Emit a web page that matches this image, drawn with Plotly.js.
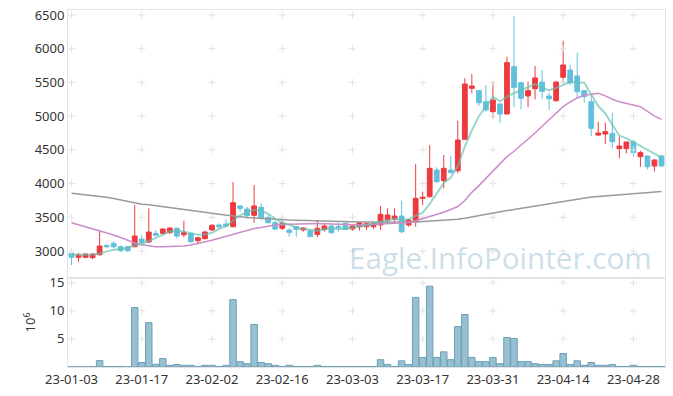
<!DOCTYPE html>
<html>
<head>
<meta charset="utf-8">
<script src="https://cdn.plot.ly/plotly-3.0.1.min.js"></script>
<style>html,body{margin:0;padding:0;background:#fff;}#chart{width:673px;height:396px;}</style>
</head>
<body>
<div id="chart"></div>
<script>
const dates = ["23-01-03","23-01-04","23-01-05","23-01-06","23-01-09","23-01-10","23-01-11","23-01-12","23-01-13","23-01-16",
"23-01-17","23-01-18","23-01-19","23-01-20","23-01-25","23-01-26","23-01-27","23-01-30","23-01-31","23-02-01",
"23-02-02","23-02-03","23-02-06","23-02-07","23-02-08","23-02-09","23-02-10","23-02-13","23-02-14","23-02-15",
"23-02-16","23-02-17","23-02-20","23-02-21","23-02-22","23-02-23","23-02-24","23-02-27","23-02-28","23-03-02",
"23-03-03","23-03-06","23-03-07","23-03-08","23-03-09","23-03-10","23-03-13","23-03-14","23-03-15","23-03-16",
"23-03-17","23-03-20","23-03-21","23-03-22","23-03-23","23-03-24","23-03-27","23-03-28","23-03-29","23-03-30",
"23-03-31","23-04-03","23-04-04","23-04-05","23-04-06","23-04-07","23-04-10","23-04-11","23-04-12","23-04-13",
"23-04-14","23-04-17","23-04-18","23-04-19","23-04-20","23-04-21","23-04-24","23-04-25","23-04-26","23-04-27",
"23-04-28","23-05-02","23-05-03","23-05-04","23-05-08"];

const open = [2966,2907,2907,2902,2946,3084,3114,3064,3064,3064,
3178,3134,3262,3262,3272,3337,3242,3262,3153,3183,
3312,3386,3401,3361,3668,3623,3529,3648,3500,3420,
3337,3312,3361,3312,3302,3247,3321,3371,3366,3411,
3326,3361,3361,3361,3386,3460,3470,3519,3386,3435,
3781,3806,4201,4043,4201,4191,4657,5413,5378,5214,
5066,5180,5032,5734,5496,5299,5407,5506,5299,5229,
5576,5684,5595,5378,5214,4720,4735,4745,4518,4518,
4617,4399,4409,4261,4409];
const high = [2970,2975,2966,2966,3312,3104,3144,3084,3074,3682,
3237,3633,3312,3336,3346,3346,3450,3272,3213,3302,
3401,3410,3470,4023,3682,3658,3979,3707,3530,3450,
3450,3337,3371,3356,3302,3455,3420,3391,3420,3420,
3381,3425,3420,3420,3668,3633,3633,3747,3470,4290,
3880,4572,4241,4424,4409,4933,5561,5625,5388,5462,
5511,5190,5882,6485,5511,5511,5744,5684,5348,5511,
6119,5759,5941,5388,5314,4918,4903,5051,4695,4621,
4646,4488,4419,4360,4419];
const low = [2793,2842,2893,2880,2931,3040,3045,2985,2985,3055,
3084,3114,3223,3252,3257,3188,3203,3114,3099,3173,
3302,3331,3351,3351,3583,3485,3420,3460,3411,3312,
3312,3213,3213,3287,3213,3203,3287,3252,3287,3312,
3302,3302,3312,3330,3312,3411,3411,3262,3361,3361,
3682,3796,4013,3930,4152,4152,4646,5339,5150,5066,
4968,4894,5032,5131,5101,5131,5250,5250,5091,5214,
5487,5462,5264,5199,4706,4706,4587,4523,4375,4449,
4399,4250,4212,4177,4256];
const close = [2907,2941,2956,2956,3074,3064,3064,3005,3005,3223,
3129,3282,3233,3326,3341,3223,3272,3138,3198,3282,
3381,3360,3371,3717,3633,3524,3668,3490,3420,3326,
3411,3277,3321,3341,3213,3337,3371,3272,3346,3321,
3371,3420,3405,3411,3544,3534,3519,3287,3460,3781,
3796,4227,4028,4227,4162,4646,5477,5447,5199,5091,
5240,5032,5793,5427,5264,5378,5566,5368,5259,5506,
5759,5496,5363,5289,4819,4750,4770,4621,4557,4617,
4459,4459,4250,4350,4261];

const ma5 = [2950,2945,2945,2950,2965,2995,3020,3030,3045,3085,
3105,3150,3190,3240,3290,3300,3290,3265,3240,3245,
3270,3330,3370,3450,3530,3580,3610,3600,3550,3480,
3420,3390,3350,3330,3310,3300,3320,3340,3325,3330,
3345,3360,3385,3400,3430,3460,3480,3460,3470,3520,
3570,3700,3860,4010,4090,4260,4550,4790,5000,5150,
5290,5220,5290,5340,5385,5430,5475,5420,5385,5420,
5460,5505,5500,5495,5320,5150,5040,4870,4710,4670,
4620,4560,4500,4440,4390];
const ma20 = [3420,3390,3365,3337,3300,3270,3237,3200,3160,3120,
3095,3075,3065,3065,3070,3065,3075,3090,3110,3130,
3160,3190,3220,3250,3280,3310,3335,3350,3370,3385,
3395,3400,3405,3410,3410,3410,3405,3400,3395,3390,
3385,3385,3390,3395,3400,3405,3410,3415,3425,3450,
3480,3505,3535,3575,3615,3660,3750,3870,3970,4078,
4180,4290,4400,4480,4570,4646,4750,4850,4943,5040,
5140,5210,5270,5310,5320,5339,5300,5250,5215,5190,
5165,5140,5070,5000,4953];
const ma60 = [3856,3845,3835,3825,3812,3798,3780,3760,3735,3710,
3695,3685,3672,3660,3648,3635,3622,3608,3593,3577,
3560,3545,3530,3518,3508,3498,3490,3482,3476,3470,
3465,3460,3456,3452,3449,3446,3443,3440,3438,3436,
3434,3432,3430,3428,3426,3425,3424,3424,3426,3430,
3436,3442,3449,3456,3463,3472,3485,3505,3527,3549,
3566,3583,3600,3617,3634,3650,3667,3684,3700,3717,
3734,3750,3767,3784,3801,3810,3818,3827,3835,3844,
3852,3860,3868,3875,3882];

const volume = [0.05,0.05,0.05,0.1,1.14,0.1,0.1,0.1,0.05,10.6,
0.8,7.9,0.5,1.5,0.3,0.45,0.3,0.3,0.1,0.3,
0.3,0.1,0.3,12.0,0.95,0.6,7.6,0.8,0.6,0.3,
0.1,0.3,0.1,0.1,0.1,0.3,0.1,0.1,0.1,0.1,
0.1,0.1,0.1,0.1,1.3,0.45,0.1,1.1,0.45,12.4,
1.7,14.4,1.7,2.7,1.3,7.2,9.35,1.7,0.96,0.96,
1.7,0.6,5.25,5.07,0.96,0.96,0.6,0.45,0.45,1.1,
2.4,0.45,1.1,0.3,0.8,0.3,0.3,0.45,0.1,0.1,
0.3,0.1,0.1,0.1,0.1];

const xTicks = ["23-01-03","23-01-17","23-02-02","23-02-16","23-03-03","23-03-17","23-03-31","23-04-14","23-04-28"];
const priceTicks = [3000,3500,4000,4500,5000,5500,6000,6500];
const volTicks = [5,10,15];

const UP = '#ee3a3e', DOWN = '#62c0dc';

// grid crosses built from the tick arrays
const gx = [], gy = [], vx = [], vy = [];
xTicks.forEach(t => { priceTicks.forEach(p => { gx.push(t); gy.push(p); }); volTicks.forEach(v => { vx.push(t); vy.push(v); }); });
const crossMarker = {symbol: 'cross-thin', size: 5, line: {color: '#e2e2e2', width: 1}, color: '#e2e2e2'};

const traces = [
  {type: 'scatter', mode: 'markers', x: gx, y: gy, xaxis: 'x2', yaxis: 'y2', marker: crossMarker, hoverinfo: 'skip'},
  {type: 'scatter', mode: 'markers', x: vx, y: vy, xaxis: 'x', yaxis: 'y', marker: crossMarker, hoverinfo: 'skip'},
  {type: 'candlestick', x: dates, open: open, high: high, low: low, close: close, xaxis: 'x2', yaxis: 'y2',
   increasing: {line: {color: UP, width: 1}, fillcolor: UP},
   decreasing: {line: {color: DOWN, width: 1}, fillcolor: DOWN}, whiskerwidth: 0},
  {type: 'scatter', mode: 'lines', x: dates, y: ma60, xaxis: 'x2', yaxis: 'y2', line: {color: '#9a9a9a', width: 1.5}},
  {type: 'scatter', mode: 'lines', x: dates, y: ma20, xaxis: 'x2', yaxis: 'y2', line: {color: '#cc8cc8', width: 1.5}},
  {type: 'scatter', mode: 'lines', x: dates, y: ma5, xaxis: 'x2', yaxis: 'y2', line: {color: 'rgba(100,192,175,0.65)', width: 2}},
  {type: 'bar', x: dates, y: volume, xaxis: 'x', yaxis: 'y',
   marker: {color: 'rgba(140,185,205,0.9)', line: {color: '#6f9fb5', width: 1}}}
];

const axLine = '#e4e4e4';
const layout = {
  width: 673, height: 396,
  margin: {l: 68, r: 8, t: 10, b: 29},
  paper_bgcolor: '#fff', plot_bgcolor: '#fff',
  showlegend: false, hovermode: false,
  font: {family: '"Noto Sans", "Open Sans", sans-serif', size: 13, color: '#333'},
  boxgap: 0.32, boxgroupgap: 0, bargap: 0.08,
  xaxis: {type: 'category', categoryorder: 'array', categoryarray: dates, range: [-0.5, 84.5],
    tickvals: xTicks, ticktext: xTicks, showgrid: false, zeroline: false, showline: true, mirror: true,
    linecolor: axLine, ticks: '', anchor: 'y', tickfont: {size: 13, color: '#333'}},
  xaxis2: {type: 'category', matches: 'x', anchor: 'y2', showticklabels: false, showgrid: false, zeroline: false,
    showline: true, mirror: true, linecolor: axLine, ticks: '', rangeslider: {visible: false}},
  yaxis: {domain: [0, 0.25], range: [0, 15.9], tickvals: volTicks, showgrid: false, zeroline: false,
    showline: true, mirror: true, linecolor: axLine, ticks: '', anchor: 'x',
    title: {text: '10<sup>6</sup>', font: {size: 13, color: '#333'}, standoff: 10}},
  yaxis2: {domain: [0.25, 1], range: [2604, 6574], tickvals: priceTicks, showgrid: false, zeroline: false,
    showline: true, mirror: true, linecolor: axLine, ticks: '', anchor: 'x2'},
  annotations: [{text: 'Eagle.InfoPointer.com', xref: 'paper', yref: 'paper', x: 0.467, y: 0.308,
    xanchor: 'left', yanchor: 'middle', showarrow: false,
    font: {family: '"Open Sans", sans-serif', size: 29.6, color: 'rgba(160,195,215,0.55)'}}]
};

Plotly.newPlot('chart', traces, layout, {staticPlot: true, displayModeBar: false});
</script>
</body>
</html>
